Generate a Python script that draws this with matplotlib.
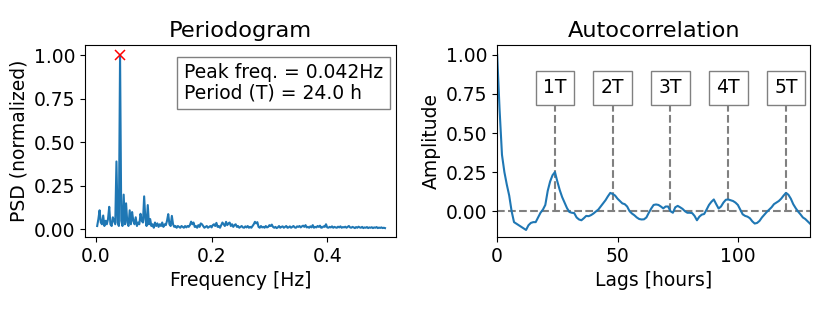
import numpy as np
import matplotlib
matplotlib.use("Agg")
import matplotlib.pyplot as plt

# ---------------- data ----------------
n_samples = 480  # hourly samples
psd_values = [
    0.02, 0.06, 0.11, 0.04, 0.03, 0.08, 0.02, 0.05, 0.03, 0.06,
    0.13, 0.03, 0.02, 0.07, 0.05, 0.03, 0.39, 0.04, 0.02, 1.00,
    0.05, 0.02, 0.20, 0.03, 0.15, 0.04, 0.02, 0.11, 0.03, 0.10,
    0.05, 0.03, 0.07, 0.02, 0.04, 0.03, 0.09, 0.05, 0.04, 0.19,
    0.06, 0.02, 0.14, 0.03, 0.06, 0.02, 0.03, 0.01, 0.04, 0.02,
    0.035, 0.015, 0.03, 0.02, 0.04, 0.015, 0.03, 0.025, 0.05, 0.088,
    0.03, 0.02, 0.078, 0.03, 0.015, 0.02, 0.01, 0.02, 0.015, 0.01,
    0.02, 0.015, 0.01, 0.02, 0.012, 0.02, 0.015, 0.025, 0.045, 0.03,
    0.04, 0.015, 0.02, 0.01, 0.025, 0.015, 0.035, 0.03, 0.02, 0.01,
    0.015, 0.02, 0.01, 0.015, 0.02, 0.012, 0.025, 0.03, 0.02, 0.038,
    0.015, 0.02, 0.01, 0.025, 0.04, 0.03, 0.02, 0.044, 0.025, 0.035,
    0.04, 0.02, 0.03, 0.015, 0.025, 0.03, 0.015, 0.02, 0.01, 0.015,
    0.02, 0.012, 0.01, 0.018, 0.012, 0.02, 0.01, 0.015, 0.01, 0.02,
    0.03, 0.044, 0.035, 0.042, 0.015, 0.01, 0.02, 0.012, 0.015, 0.01,
    0.02, 0.012, 0.015, 0.025, 0.02, 0.028, 0.015, 0.01, 0.015, 0.008,
    0.012, 0.02, 0.01, 0.015, 0.018, 0.01, 0.015, 0.02, 0.01, 0.012,
    0.018, 0.01, 0.015, 0.02, 0.012, 0.01, 0.018, 0.015, 0.02, 0.012,
    0.018, 0.022, 0.015, 0.025, 0.012, 0.015, 0.01, 0.018, 0.012, 0.025,
    0.01, 0.015, 0.012, 0.02, 0.015, 0.022, 0.01, 0.012, 0.018, 0.015,
    0.03, 0.012, 0.01, 0.015, 0.012, 0.018, 0.01, 0.015, 0.012, 0.01,
    0.016, 0.012, 0.018, 0.01, 0.014, 0.012, 0.016, 0.01, 0.015, 0.02,
    0.012, 0.01, 0.015, 0.012, 0.008, 0.014, 0.01, 0.016, 0.012, 0.01,
    0.015, 0.008, 0.012, 0.01, 0.014, 0.008, 0.012, 0.01, 0.013, 0.008,
    0.012, 0.01, 0.014, 0.008, 0.011, 0.009, 0.012, 0.008, 0.01, 0.008,
]
frequencies = np.arange(1, len(psd_values) + 1) / n_samples
peak_freq = 0.042
peak_period = 24.0

acf_values = [
    1.00, 0.65, 0.36, 0.25, 0.17, 0.10, 0.00, -0.07, -0.08, -0.09,
    -0.10, -0.11, -0.12, -0.09, -0.075, -0.07, -0.07, -0.04, -0.01, 0.01,
    0.04, 0.13, 0.19, 0.23, 0.25, 0.19, 0.135, 0.09, 0.055, 0.02,
    -0.005, -0.01, -0.012, -0.04, -0.053, -0.058, -0.045, -0.03, -0.032, -0.025,
    -0.015, -0.002, 0.01, 0.03, 0.05, 0.07, 0.095, 0.117, 0.11, 0.10,
    0.08, 0.065, 0.05, 0.045, 0.03, 0.00, -0.015, -0.026, -0.04, -0.05,
    -0.053, -0.052, -0.04, -0.01, 0.017, 0.04, 0.043, 0.04, 0.03, 0.018,
    0.03, 0.03, 0.00, -0.01, 0.025, 0.034, 0.025, 0.015, 0.00, -0.01,
    -0.01, -0.012, -0.03, -0.058, -0.035, -0.022, -0.018, 0.01, 0.04, 0.06,
    0.075, 0.045, 0.017, 0.03, 0.055, 0.073, 0.075, 0.07, 0.065, 0.055,
    0.04, 0.01, -0.02, -0.03, -0.035, -0.045, -0.065, -0.079, -0.075, -0.062,
    -0.04, -0.022, -0.005, 0.01, 0.025, 0.045, 0.055, 0.065, 0.08, 0.10,
    0.117, 0.105, 0.08, 0.045, 0.02, -0.002, -0.02, -0.04, -0.05, -0.065,
    -0.08,
]
lags = np.arange(len(acf_values))
period_labels = ["1T", "2T", "3T", "4T", "5T"]
period_lags = [24, 48, 72, 96, 120]

# ---------------- plot ----------------
FS = 13.5
plt.rcParams["font.family"] = ["DejaVu Sans"]
plt.rcParams["font.size"] = FS

fig = plt.figure(figsize=(8.3, 3.12), dpi=100)
ax1 = fig.add_axes([0.1024, 0.2404, 0.3747, 0.615])
ax2 = fig.add_axes([0.599, 0.2404, 0.377, 0.615])

blue = "#1f77b4"

# Periodogram
ax1.plot(frequencies, psd_values, color=blue, lw=1.5)
ax1.plot([peak_freq], [1.0], "x", color="red", ms=7, mew=1.1)
ax1.set_xlim(-0.019, 0.519)
ax1.set_ylim(-0.043, 1.057)
ax1.set_xticks([0.0, 0.2, 0.4])
ax1.set_yticks([0.0, 0.25, 0.5, 0.75, 1.0])
ax1.set_yticklabels(["0.00", "0.25", "0.50", "0.75", "1.00"])
ax1.set_title("Periodogram", fontsize=16.2)
ax1.set_xlabel("Frequency [Hz]")
ax1.set_ylabel("PSD (normalized)")
ax1.text(0.318, 0.905,
         f"Peak freq. = {peak_freq:.3f}Hz\nPeriod (T) = {peak_period:.1f} h",
         transform=ax1.transAxes, ha="left", va="top", fontsize=FS,
         linespacing=1.1, multialignment="left",
         bbox=dict(boxstyle="square,pad=0.35", fc="white", ec="gray", lw=1.0))

# Autocorrelation
ax2.axhline(0, color="gray", ls="--", lw=1.5, zorder=1)
for lab, lg in zip(period_labels, period_lags):
    ax2.plot([lg, lg], [0, 0.79], color="gray", ls="--", lw=1.5, zorder=1)
    ax2.text(lg, 0.79, lab, ha="center", va="center", fontsize=FS, zorder=3,
             bbox=dict(boxstyle="square,pad=0.4", fc="white", ec="gray", lw=1.0))
ax2.plot(lags, acf_values, color=blue, lw=1.5, zorder=2)
ax2.set_xlim(0, 130)
ax2.set_ylim(-0.165, 1.062)
ax2.set_xticks([0, 50, 100])
ax2.set_yticks([0.0, 0.25, 0.5, 0.75, 1.0])
ax2.set_yticklabels(["0.00", "0.25", "0.50", "0.75", "1.00"])
ax2.set_title("Autocorrelation", fontsize=16.2)
ax2.set_xlabel("Lags [hours]")
ax2.set_ylabel("Amplitude")

fig.savefig("out.png", dpi=100)
